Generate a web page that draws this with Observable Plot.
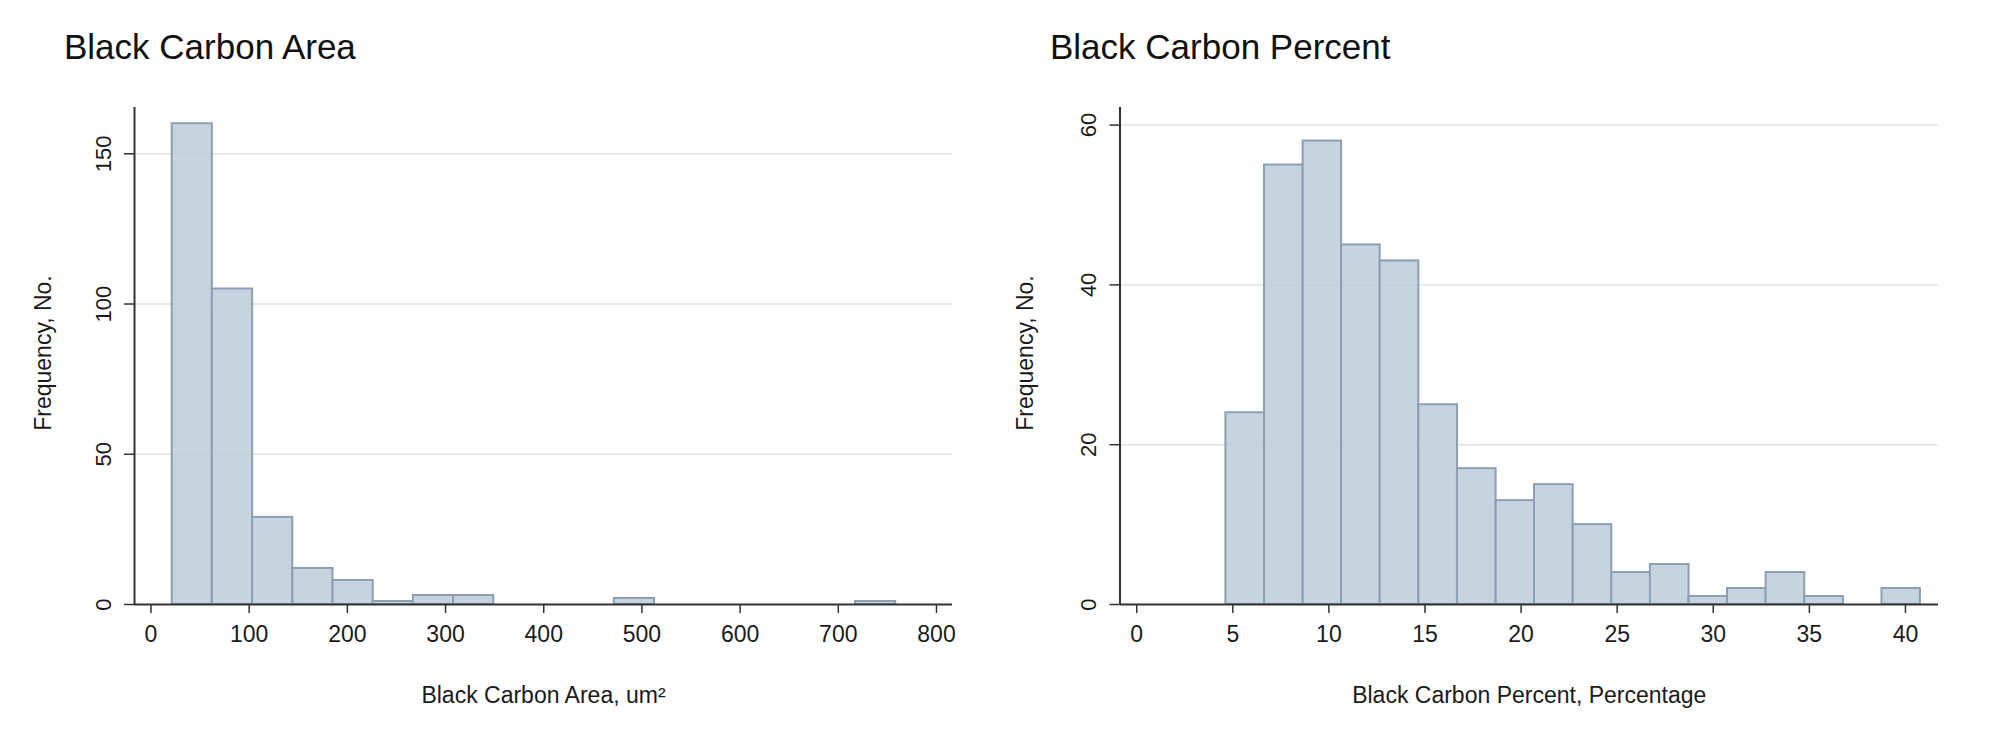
<!DOCTYPE html>
<html><head><meta charset="utf-8">
<script src="https://cdn.jsdelivr.net/npm/d3@7"></script>
<script src="https://cdn.jsdelivr.net/npm/@observablehq/plot@0.6"></script>
<style>
body{margin:0;background:#fff;}
#wrap{position:relative;width:2008px;height:744px;overflow:hidden;background:#fff;font-family:"Liberation Sans",Arial,sans-serif;}
.panel{position:absolute;top:0;width:1004px;height:744px;}
.title{position:absolute;top:29px;font-size:35px;line-height:35px;color:#111;white-space:nowrap;}
</style></head>
<body>
<div id="wrap">
  <div class="title" style="left:64px">Black Carbon Area</div>
  <div class="title" style="left:1050px">Black Carbon Percent</div>
  <div class="panel" id="left" style="left:0"></div>
  <div class="panel" id="right" style="left:1004px"></div>
</div>
<script>
// ---- data ----
const areaBinEdges = [21.6, 62.5, 103.5, 144.4, 185.4, 226.3, 267.2, 308.2, 349.1, 390.1, 431.0, 471.9, 512.9, 553.8, 594.8, 635.7, 676.6, 717.6, 758.5];
const areaCounts   = [160, 105, 29, 12, 8, 1, 3, 3, 0, 0, 0, 2, 0, 0, 0, 0, 0, 1];
const pctBinEdges  = [4.64, 6.65, 8.66, 10.66, 12.67, 14.68, 16.69, 18.70, 20.70, 22.71, 24.72, 26.73, 28.74, 30.74, 32.75, 34.76, 36.77, 38.78, 40.78];
const pctCounts    = [24, 55, 58, 45, 43, 25, 17, 13, 15, 10, 4, 5, 1, 2, 4, 1, 0, 2];
const areaXTicks = [0, 100, 200, 300, 400, 500, 600, 700, 800];
const areaYTicks = [0, 50, 100, 150];
const pctXTicks  = [0, 5, 10, 15, 20, 25, 30, 35, 40];
const pctYTicks  = [0, 20, 40, 60];
const areaXDomain = [-16.8, 816.3];
const areaYDomain = [0, 165.4];
const pctXDomain  = [-0.87, 41.72];
const pctYDomain  = [0, 62.2];
const areaXLabel = "Black Carbon Area, um²";
const pctXLabel  = "Black Carbon Percent, Percentage";
const yLabel = "Frequency, No.";

function hist({edges, counts, xTicks, yTicks, xDomain, yDomain, xLabel, marginLeft, marginRight, yLabelDx}) {
  const bins = counts.map((c, i) => ({x1: edges[i], x2: edges[i + 1], count: c}));
  return Plot.plot({
    width: 1004,
    height: 744,
    marginLeft, marginRight,
    marginTop: 107,
    marginBottom: 140,
    style: {fontFamily: '"Liberation Sans", Arial, sans-serif', fontSize: "23px", color: "#1a1a1a", background: "transparent", overflow: "visible"},
    x: {domain: xDomain, axis: null},
    y: {domain: yDomain, axis: null},
    marks: [
      Plot.gridY(yTicks.filter(d => d > 0), {stroke: "#dde3e8", strokeOpacity: 1, strokeWidth: 1.5}),
      Plot.rectY(bins, {x1: "x1", x2: "x2", y: "count", fill: "#bdcbd9", fillOpacity: 0.85, stroke: "#8d9fb3", strokeWidth: 2}),
      Plot.ruleY([yDomain[0]], {stroke: "#333", strokeWidth: 2}),
      Plot.ruleX([xDomain[0]], {stroke: "#333", strokeWidth: 2}),
      Plot.axisX(xTicks, {tickSize: 9, tickPadding: 12, stroke: "#333", strokeWidth: 1.5, fill: "#1a1a1a", fontSize: 23, label: null}),
      Plot.axisY(yTicks, {tickSize: 10, tickPadding: 14, tickRotate: -90, stroke: "#333", strokeWidth: 1.5, fill: "#1a1a1a", fontSize: 22, label: null}),
      Plot.text([xLabel], {frameAnchor: "bottom", textAnchor: "middle", lineAnchor: "bottom", dy: 98, fontSize: 23, fill: "#1a1a1a"}),
      Plot.text([yLabel], {frameAnchor: "left", textAnchor: "middle", lineAnchor: "bottom", rotate: -90, dx: yLabelDx, dy: -3, fontSize: 23, fill: "#1a1a1a"})
    ]
  });
}

document.getElementById("left").append(hist({
  edges: areaBinEdges, counts: areaCounts, xTicks: areaXTicks, yTicks: areaYTicks,
  xDomain: areaXDomain, yDomain: areaYDomain, xLabel: areaXLabel,
  marginLeft: 134, marginRight: 52, yLabelDx: -84
}));
document.getElementById("right").append(hist({
  edges: pctBinEdges, counts: pctCounts, xTicks: pctXTicks, yTicks: pctYTicks,
  xDomain: pctXDomain, yDomain: pctYDomain, xLabel: pctXLabel,
  marginLeft: 115.5, marginRight: 70, yLabelDx: -87
}));
</script>
</body></html>
